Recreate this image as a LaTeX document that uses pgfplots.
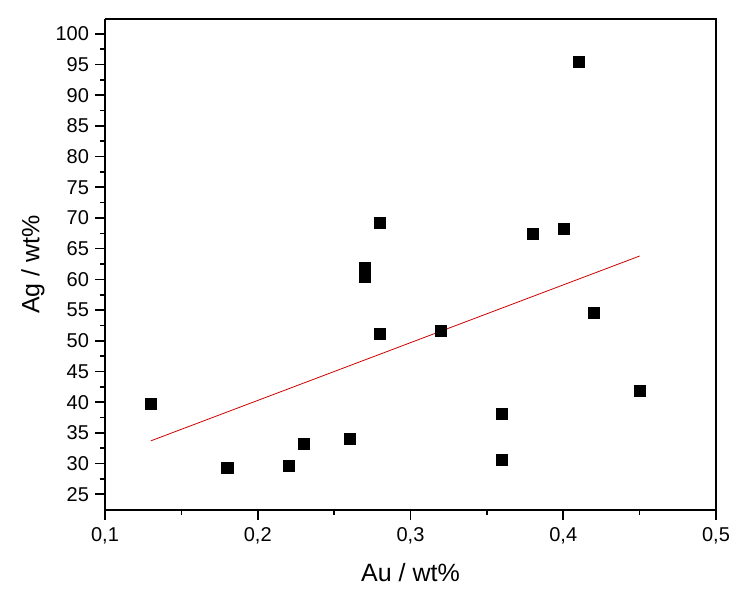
\documentclass[border=0pt]{standalone}
\usepackage{fontspec}
\setmainfont{Liberation Sans}
\usepackage{pgfplots}
\pgfplotsset{compat=1.18}
\begin{document}
\begin{tikzpicture}
\begin{axis}[
  scale only axis, width=611pt, height=491pt,
  xmin=0.1, xmax=0.5, ymin=22.44, ymax=102.4,
  xtick={0.1,0.2,0.3,0.4,0.5}, ytick={25,30,...,100},
  minor x tick num=1, minor y tick num=1,
  axis x line*=bottom, axis y line*=left,
  tick align=outside,
  major tick length=9.5pt, minor tick length=5pt,
  every tick/.style={black, line width=1.6pt},
  axis line style={line width=1.6pt, -},
  /pgf/number format/assume math mode=true,
  xticklabel style={yshift=-5pt, /pgf/number format/.cd, use comma, fixed, fixed zerofill, precision=1},
  yticklabel style={xshift=-3pt, /pgf/number format/.cd, fixed, precision=0},
  tick label style={font=\fontsize{20}{24}\selectfont},
  label style={font=\fontsize{25}{30}\selectfont},
  xlabel={Au / wt\%}, ylabel={Ag / wt\%},
  xlabel style={at={(axis description cs:0.5,0)}, anchor=center, yshift=-63pt},
  ylabel style={at={(axis description cs:-0.118,0.5)}, anchor=center},
  clip=false,
]
\addplot[only marks, mark=square*, mark size=5.5pt, black] coordinates {
(0.13,39.7) (0.18,29.3) (0.22,29.7) (0.23,33.2) (0.26,34.0)
(0.27,61.9) (0.27,60.5) (0.28,69.3) (0.28,51.2) (0.32,51.6)
(0.36,38.2) (0.36,30.6) (0.38,67.4) (0.40,68.2) (0.41,95.4)
(0.42,54.5) (0.45,41.9)
};
\addplot[red!80!black, line width=0.8pt] coordinates {(0.13,33.7) (0.45,63.8)};
\end{axis}
\draw[line width=1.6pt] (0,491pt) -- (611pt,491pt) -- (611pt,0);
\pgfresetboundingbox
\path (-105pt,-84pt) rectangle (636pt,510pt);
\end{tikzpicture}
\end{document}
